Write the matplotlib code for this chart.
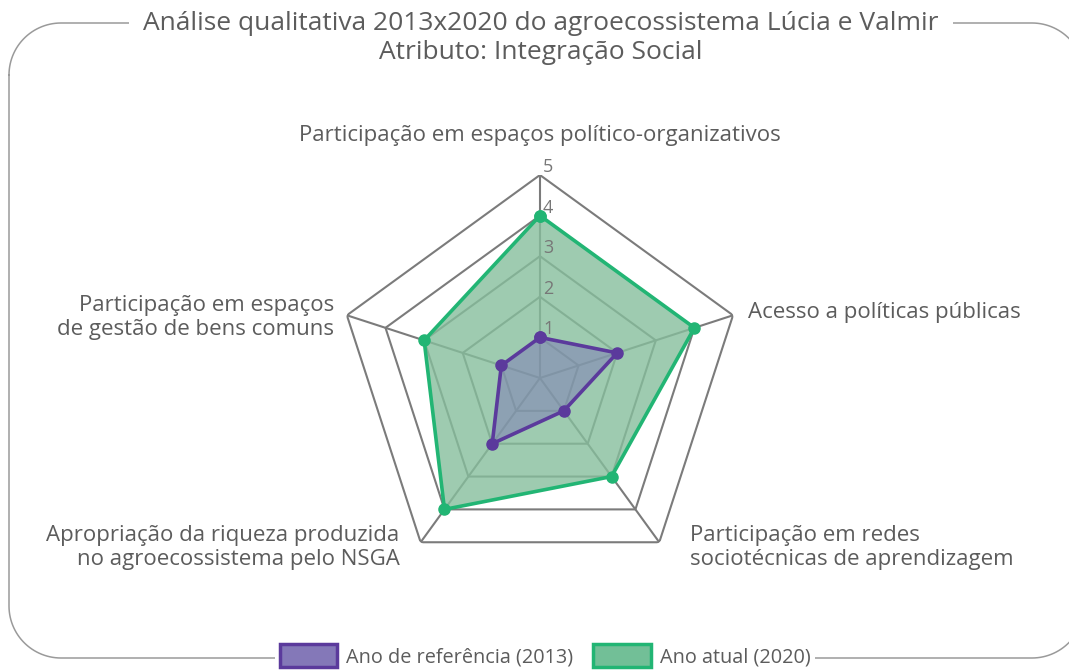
import numpy as np
import matplotlib
matplotlib.use("Agg")
import matplotlib.pyplot as plt
from matplotlib.patches import Patch

plt.rcParams['font.family'] = ['Open Sans', 'DejaVu Sans']
plt.rcParams['font.weight'] = 500

categories = ['Participação em espaços político-organizativos',
              'Acesso a políticas públicas',
              'Participação em redes\nsociotécnicas de aprendizagem',
              'Apropriação da riqueza produzida\nno agroecossistema pelo NSGA',
              'Participação em espaços\nde gestão de bens comuns']
ref_2013 = [1, 2, 1, 2, 1]
atual_2020 = [4, 4, 3, 4, 3]
levels = [1, 2, 3, 4, 5]
series_names = ['Ano de referência (2013)', 'Ano atual (2020)']

txt = '#5c5c5c'
grid_col = '#7b7b7b'
purple = '#5b3a9c'
green = '#22b574'

fig = plt.figure(figsize=(10.69, 6.70), dpi=100)

# background axes in pixel units, for the rounded frame
bg = fig.add_axes([0, 0, 1, 1])
bg.set_xlim(0, 1069)
bg.set_ylim(670, 0)
bg.axis('off')

x0, x1, y0, y1, r = 9, 1084, 23, 658, 52
t = np.linspace(0, np.pi / 2, 30)
fx = np.concatenate([x0 + r - r * np.cos(t), x1 - r + r * np.sin(t),
                     x1 - r + r * np.cos(t), x0 + r - r * np.sin(t), [x0]])
fy = np.concatenate([y0 + r - r * np.sin(t), y0 + r - r * np.cos(t),
                     y1 - r + r * np.sin(t), y1 - r + r * np.cos(t), [y0 + r]])
bg.plot(fx, fy, color='#9a9a9a', lw=1.1)

ax = fig.add_axes([0.3152, 0.1328, 0.3798, 0.606], projection='polar')
ax.set_theta_offset(np.pi / 2)
ax.set_theta_direction(-1)
ax.set_ylim(0, 5)
ax.axis('off')

n = len(categories)
angles = np.linspace(0, 2 * np.pi, n, endpoint=False)
closed = np.append(angles, angles[0])

# pentagon grid + spokes
for lv in levels:
    ax.plot(closed, [lv] * (n + 1), color=grid_col, lw=1.5, zorder=1)
for a in angles:
    ax.plot([a, a], [0, 5], color=grid_col, lw=1.5, zorder=1)

# data
v20 = np.append(atual_2020, atual_2020[0])
v13 = np.append(ref_2013, ref_2013[0])
ax.fill(closed, v20, color='#86be9c', alpha=0.8, zorder=2, lw=0)
ax.fill(closed, v13, color='#7e79b6', alpha=0.5, zorder=3, lw=0)
ax.plot(closed, v20, color=green, lw=2.6, marker='o', ms=8, zorder=4)
ax.plot(closed, v13, color=purple, lw=2.6, marker='o', ms=8, zorder=5)

# radial numbers
for lv in levels:
    ax.annotate(str(lv), xy=(0, lv), xytext=(3, 8), textcoords='offset pixels',
                ha='left', va='center', fontsize=13, color='#777777', zorder=6)

# category labels
offsets = [(0, 40, 'center'), (15, 3, 'left'), (31, -5, 'left'),
           (-21, -5, 'right'), (-13, -2, 'right')]
for a, lab, (dx, dy, ha) in zip(angles, categories, offsets):
    ax.annotate(lab, xy=(a, 5), xytext=(dx, dy), textcoords='offset pixels',
                ha=ha, va='center', fontsize=16, color=txt, linespacing=1.2,
                annotation_clip=False)

bg.text(541, 38,
        'Análise qualitativa 2013x2020 do agroecossistema Lúcia e Valmir\nAtributo: Integração Social',
        ha='center', va='center', fontsize=19, color=txt, linespacing=1.2,
        bbox=dict(facecolor='white', edgecolor='none', pad=10))

handles = [Patch(facecolor='#8478b8', edgecolor=purple, lw=2.5),
           Patch(facecolor='#72bf97', edgecolor=green, lw=2.5)]
fig.legend(handles, series_names, loc='center', bbox_to_anchor=(545 / 1069, 1 - 656 / 670),
           ncol=2, fontsize=14.3, frameon=True, facecolor='white', edgecolor='none',
           framealpha=1, handlelength=2.9, handleheight=1.4, columnspacing=1.0,
           handletextpad=0.45, labelcolor=txt, borderpad=0.25)

fig.savefig('out.png', dpi=100)
